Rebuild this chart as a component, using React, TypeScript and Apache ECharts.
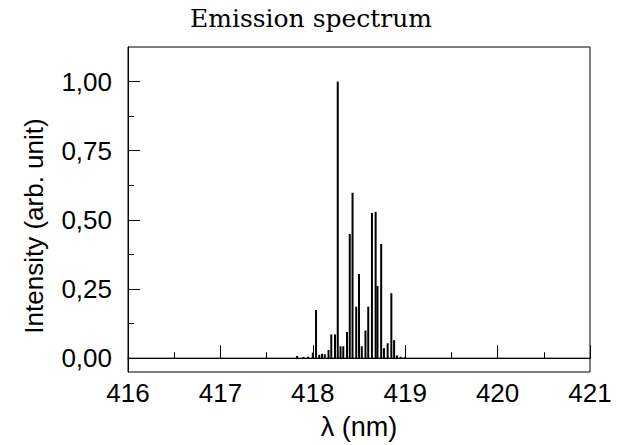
import React, { useEffect, useRef } from "react";
import * as echarts from "echarts";

const peakWavelengths = [417.83, 417.9, 417.95, 418.0, 418.035, 418.07, 418.1, 418.13, 418.17, 418.2, 418.24, 418.27, 418.3, 418.33, 418.37, 418.4, 418.43, 418.47, 418.5, 418.53, 418.57, 418.6, 418.64, 418.68, 418.7, 418.74, 418.77, 418.81, 418.85, 418.88, 418.91, 418.95, 419.0];
const peakIntensities = [0.008, 0.004, 0.005, 0.02, 0.174, 0.012, 0.016, 0.014, 0.03, 0.086, 0.086, 1.0, 0.043, 0.043, 0.095, 0.449, 0.598, 0.186, 0.304, 0.043, 0.1, 0.186, 0.525, 0.529, 0.261, 0.413, 0.036, 0.054, 0.235, 0.065, 0.01, 0.005, 0.004];
const baselineX = [416, 421];
const baselineY = [0, 0];
const yMajorTicks = [0, 0.25, 0.5, 0.75, 1.0];
const yMinorTicks = [0.125, 0.375, 0.625, 0.875];
const xMinorTicks = [416.5, 417.5, 418.5, 419.5, 420.5];

const FONT = "Liberation Sans";

export default function App() {
  const ref = useRef<HTMLDivElement>(null);
  useEffect(() => {
    if (!ref.current) return;
    const chart = echarts.init(ref.current, null, { renderer: "svg" });
    const yBase = { type: "value", min: -0.05, max: 1.125 };
    chart.setOption({
      animation: false,
      backgroundColor: "#fff",
      title: {
        text: "Emission spectrum",
        left: "center",
        top: 1,
        textStyle: { fontFamily: "DejaVu Serif", fontWeight: "normal", fontSize: 25, color: "#000" },
      },
      grid: { left: 128, right: 32, top: 47, bottom: 73, show: true, borderColor: "#000", borderWidth: 1, backgroundColor: "transparent" },
      xAxis: [
        {
          type: "value",
          min: 416,
          max: 421,
          interval: 1,
          axisLine: { show: true, lineStyle: { color: "#000", width: 1 } },
          axisTick: { show: true, inside: true, length: 13, lineStyle: { color: "#000" } },
          axisLabel: { fontFamily: FONT, fontSize: 26, color: "#000", margin: 8 },
          splitLine: { show: false },
          name: "λ (nm)",
          nameLocation: "middle",
          nameGap: 41,
          nameTextStyle: { fontFamily: FONT, fontSize: 27, color: "#000" },
        },
        {
          type: "value",
          min: 416,
          max: 421,
          position: "bottom",
          axisLine: { show: false },
          axisTick: { show: true, inside: true, length: 6, customValues: xMinorTicks, lineStyle: { color: "#000" } },
          axisLabel: { show: false },
          splitLine: { show: false },
        },
      ],
      yAxis: [
        {
          ...yBase,
          axisLine: { show: true, lineStyle: { color: "#000", width: 1 } },
          axisTick: { show: true, inside: true, length: 12, customValues: yMajorTicks, lineStyle: { color: "#000" } },
          axisLabel: {
            customValues: yMajorTicks,
            fontFamily: FONT,
            fontSize: 26,
            color: "#000",
            margin: 16,
            formatter: (v: number) => v.toFixed(2).replace(".", ","),
          },
          splitLine: { show: false },
        },
        {
          ...yBase,
          position: "left",
          axisLine: { show: false },
          axisTick: { show: true, inside: true, length: 6, customValues: yMinorTicks, lineStyle: { color: "#000" } },
          axisLabel: { show: false },
          splitLine: { show: false },
        },
      ],
      graphic: [
        {
          type: "text",
          x: 34,
          y: 226,
          rotation: Math.PI / 2,
          style: {
            text: "Intensity (arb. unit)",
            fontFamily: FONT,
            fontSize: 26,
            fill: "#000",
            align: "center",
            verticalAlign: "middle",
          },
        },
      ],
      series: [
        {
          type: "line",
          data: baselineX.map((x, i) => [x, baselineY[i]]),
          symbol: "none",
          lineStyle: { color: "#000", width: 1 },
          silent: true,
        },
        {
          type: "bar",
          data: peakWavelengths.map((x, i) => [x, peakIntensities[i]]),
          barWidth: 2,
          itemStyle: { color: "#000" },
          silent: true,
        },
      ],
    });
    return () => chart.dispose();
  }, []);
  return <div ref={ref} style={{ width: 622, height: 445, position: "absolute", left: 0, top: 0 }} />;
}
